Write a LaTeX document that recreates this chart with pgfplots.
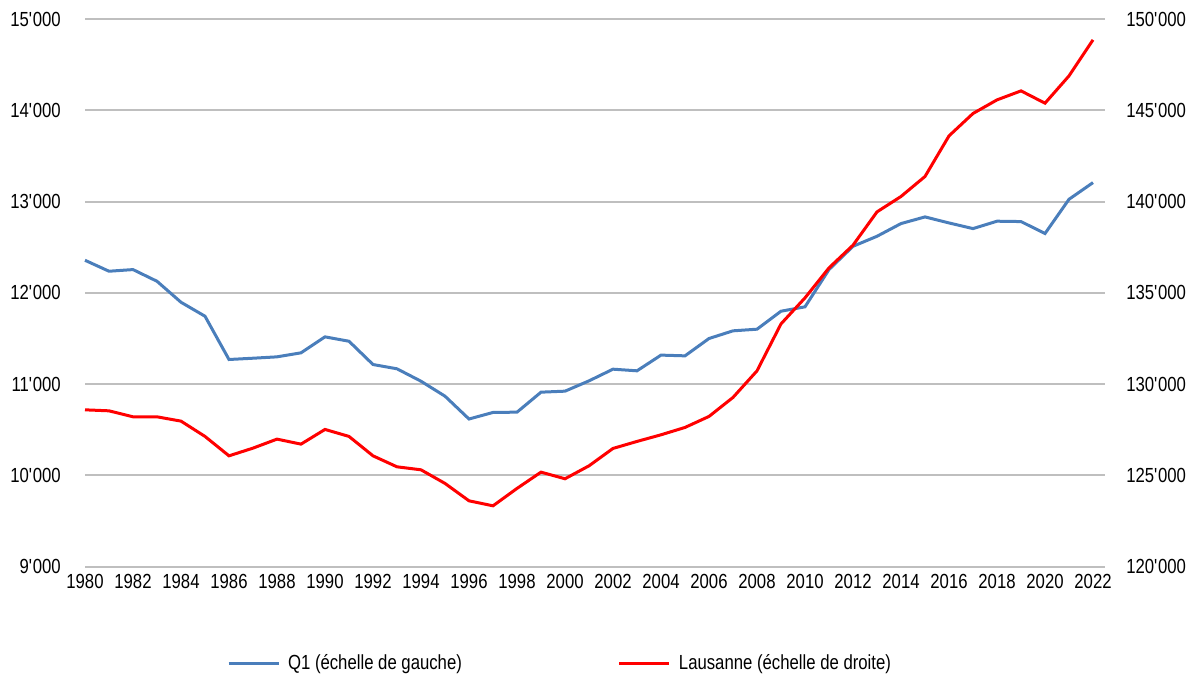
\documentclass[border=0pt]{standalone}
\usepackage{pgfplots}
\pgfplotsset{compat=1.18}
\usepackage{fontspec}
\setmainfont{Liberation Sans}[FakeStretch=0.82]
\definecolor{qblue}{HTML}{4A7EBB}
\definecolor{gridgray}{HTML}{BFBFBF}
\pgfplotstableread{
year q1
1980 12357
1981 12237
1982 12255
1983 12127
1984 11897
1985 11744
1986 11270
1987 11284
1988 11299
1989 11343
1990 11518
1991 11470
1992 11215
1993 11168
1994 11032
1995 10868
1996 10618
1997 10690
1998 10693
1999 10912
2000 10923
2001 11036
2002 11164
2003 11146
2004 11318
2005 11310
2006 11500
2007 11584
2008 11602
2009 11799
2010 11847
2011 12255
2012 12510
2013 12620
2014 12759
2015 12832
2016 12766
2017 12704
2018 12785
2019 12781
2020 12650
2021 13025
2022 13208
}\qone
\pgfplotstableread{
year laus
1980 128593
1981 128538
1982 128210
1983 128210
1984 127974
1985 127136
1986 126073
1987 126495
1988 126988
1989 126714
1990 127519
1991 127136
1992 126073
1993 125471
1994 125307
1995 124562
1996 123609
1997 123335
1998 124288
1999 125180
2000 124817
2001 125526
2002 126478
2003 126862
2004 127225
2005 127628
2006 128231
2007 129272
2008 130728
2009 133300
2010 134726
2011 136369
2012 137612
2013 139436
2014 140279
2015 141374
2016 143598
2017 144825
2018 145570
2019 146063
2020 145389
2021 146884
2022 148856
}\laus
\pgfplotsset{
  /pgf/number format/assume math mode=true,
  tick label style={font=\fontsize{10.2}{12}\selectfont},
}
\begin{document}
\begin{tikzpicture}[x=1pt,y=1pt]
\useasboundingbox (0,0) rectangle (597.5,338.5);
\begin{axis}[
  at={(42.5pt,55.15pt)}, anchor=south west, scale only axis,
  width=510pt, height=273.85pt,
  xmin=1980, xmax=2022.5, ymin=9000, ymax=15000,
  axis x line*=bottom, axis y line*=left,
  axis line style={draw=none}, major tick length=0pt,
  scaled y ticks=false, scaled x ticks=false,
  ytick={9000,10000,11000,12000,13000,14000,15000},
  yticklabels={9\textquotesingle000,10\textquotesingle000,11\textquotesingle000,12\textquotesingle000,13\textquotesingle000,14\textquotesingle000,15\textquotesingle000},
  yticklabel style={xshift=-8.6pt},
  xtick={1980,1982,...,2022},
  xticklabel style={/pgf/number format/1000 sep={}},
  ymajorgrids, grid style={gridgray, line width=1pt},
  clip=false,
  legend columns=2,
  legend style={at={(0.133,-0.176)}, anchor=west, draw=none, fill=none,
    font=\fontsize{10.2}{12}\selectfont,
    /tikz/every even column/.append style={column sep=74pt}},
  legend image code/.code={\draw[#1] (0pt,0pt) -- (25pt,0pt);},
  legend style={nodes={inner xsep=4pt}},
]
\addplot[qblue, line width=1.5pt] table[x=year,y=q1]{\qone};
\addlegendentry{Q1 (échelle de gauche)}
\addlegendimage{red, line width=1.5pt}
\addlegendentry{Lausanne (échelle de droite)}
\end{axis}
\begin{axis}[
  at={(42.5pt,55.15pt)}, anchor=south west, scale only axis,
  width=510pt, height=273.85pt,
  xmin=1980, xmax=2022.5, ymin=120000, ymax=150000,
  axis x line=none, axis y line*=right,
  axis line style={draw=none}, major tick length=0pt,
  scaled y ticks=false,
  ytick={120000,125000,130000,135000,140000,145000,150000},
  yticklabels={120\textquotesingle000,125\textquotesingle000,130\textquotesingle000,135\textquotesingle000,140\textquotesingle000,145\textquotesingle000,150\textquotesingle000},
  yticklabel style={xshift=7.1pt},
  clip=false,
]
\addplot[red, line width=1.5pt] table[x=year,y=laus]{\laus};
\end{axis}
\end{tikzpicture}
\end{document}
